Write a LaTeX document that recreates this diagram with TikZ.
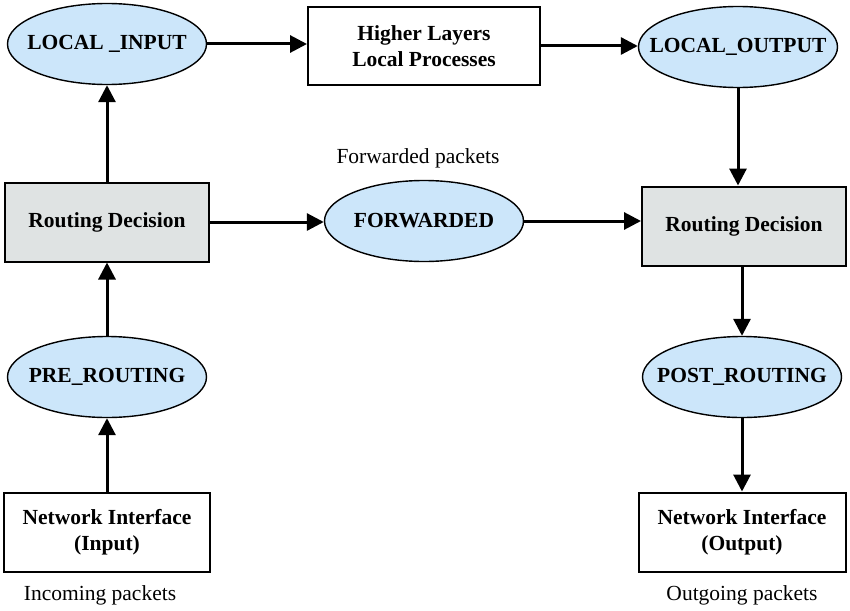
\documentclass[tikz,border=0pt]{standalone}
\usepackage{fontspec}
\setmainfont{Liberation Serif}
\usepackage{tikz}
\usetikzlibrary{positioning,shapes.geometric,arrows.meta}
\definecolor{hookblue}{HTML}{CCE6FA}
\definecolor{decgray}{HTML}{DFE3E3}

\tikzset{
  every node/.style={font=\fontsize{21.5}{26}\selectfont},
  hook/.style={ellipse, draw, line width=1.4pt, fill=hookblue, inner xsep=-40pt, inner ysep=0pt,
    minimum width=199pt, minimum height=81pt, font=\fontsize{21.5}{26}\selectfont\bfseries},
  box/.style={rectangle, draw, line width=2pt, align=center, inner sep=0pt,
    minimum width=206pt, minimum height=79pt, font=\fontsize{21.5}{26}\selectfont\bfseries},
  decision/.style={box, fill=decgray, minimum width=204pt},
  flow/.style={-{Triangle[length=17pt,width=17pt]}, line width=3pt},
}

\begin{document}
\begin{tikzpicture}[x=1pt, y=-1pt, on grid]
      \useasboundingbox (0,0) rectangle (850,610);
      % Define nodes
      \node[decision] (rdin) at (107,222) {Routing Decision};
      \node[hook, above=178pt of rdin] (lin) {LOCAL \_INPUT};
      \node[hook, below=155pt of rdin] (pre) {PRE\_ROUTING};
      \node[box, below=155pt of pre] (nin) {Network Interface\\(Input)};
      \node[below=63pt of nin, xshift=-7pt] (inc) {Incoming packets};
      \node[box, minimum width=232pt, minimum height=78pt] (hl) at (424,46) {Higher Layers\\Local Processes};
      \node[hook] (fwd) at (424,221) {FORWARDED};
      \node[above=63pt of fwd, xshift=-6pt] (fwdl) {Forwarded packets};
      \node[decision] (rdout) at (744,226) {Routing Decision};
      \node[hook, above=179pt of rdout, xshift=-6pt] (lout) {LOCAL\_OUTPUT};
      \node[hook, below=151pt of rdout, xshift=-2pt] (post) {POST\_ROUTING};
      \node[box, below=155pt of post, minimum width=207pt] (nout) {Network Interface\\(Output)};
      \node[below=63pt of nout] (outg) {Outgoing packets};
      % Connect nodes
      \draw[flow] (nin) -- (pre);
      \draw[flow] (pre) -- (rdin);
      \draw[flow] (rdin) -- (lin);
      \draw[flow] (lin.east) -- (lin.east -| hl.west);
      \draw[flow] (hl.east) -- (hl.east -| lout.west);
      \draw[flow] (rdin.east) -- (rdin.east -| fwd.west);
      \draw[flow] (fwd.east) -- (fwd.east -| rdout.west);
      \draw[flow] (lout.south) -- (lout.south |- rdout.north);
      \draw[flow] (post |- rdout.south) -- (post);
      \draw[flow] (post) -- (nout);
\end{tikzpicture}
\end{document}
